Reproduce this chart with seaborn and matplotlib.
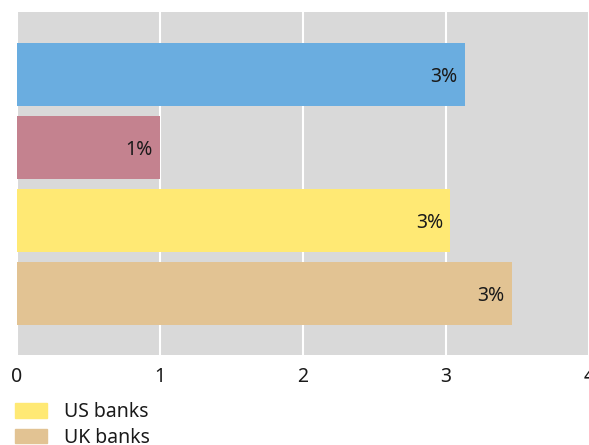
import matplotlib
matplotlib.use("Agg")
import matplotlib.pyplot as plt
import matplotlib.patches as mpatches
import seaborn as sns
import pandas as pd

# Data (top to bottom)
series = ["Euro area banks", "Japanese banks", "US banks", "UK banks"]
values = [3.13, 1.00, 3.03, 3.46]
bar_labels = ["3%", "1%", "3%", "3%"]
colors = ["#6aade0", "#c4828f", "#ffe974", "#e2c393"]
legend_order = ["US banks", "UK banks", "Euro area banks", "Japanese banks"]
xticks = [0, 1, 2, 3, 4]

sns.set_theme(style="white")
plt.rcParams["font.family"] = ["Noto Sans", "DejaVu Sans"]

W, H = 589, 445
fig = plt.figure(figsize=(W / 100, H / 100), dpi=100)
ax = fig.add_axes([17 / W, 1 - 355 / H, (589 - 17) / W, (355 - 12) / H])
ax.set_facecolor("#d9d9d9")

df = pd.DataFrame({"series": series, "value": values})
sns.barplot(data=df, x="value", y="series", hue="series", palette=colors,
            orient="h", width=0.863, ax=ax, legend=False, saturation=1,
            edgecolor="none")

ax.set_xlim(0, 4)
ax.set_ylim(3.84, -0.855)
ax.set_xticks(xticks)
ax.set_xticklabels([str(t) for t in xticks], fontsize=14, color="#1a1a1a")
ax.set_yticks([])
ax.set_xlabel("")
ax.set_ylabel("")
ax.tick_params(axis="x", length=0, pad=9)
ax.grid(axis="x", color="white", linewidth=1.5)
ax.set_axisbelow(True)
for s in ax.spines.values():
    s.set_visible(False)

for i, (v, lab) in enumerate(zip(values, bar_labels)):
    ax.annotate(lab, xy=(v, i), xytext=(-5, -2), textcoords="offset points",
                ha="right", va="center", fontsize=14, color="#1a1a1a")

handles = [mpatches.Patch(color=colors[series.index(n)], label=n) for n in legend_order]
fig.legend(handles=handles, loc="upper left",
           bbox_to_anchor=(15 / W, 1 - 402 / H), frameon=False,
           fontsize=14, handlelength=1.65, handleheight=0.78,
           handletextpad=0.85, labelspacing=0.3, borderpad=0, borderaxespad=0,
           labelcolor="#1a1a1a")

fig.savefig("out.png", dpi=100)
